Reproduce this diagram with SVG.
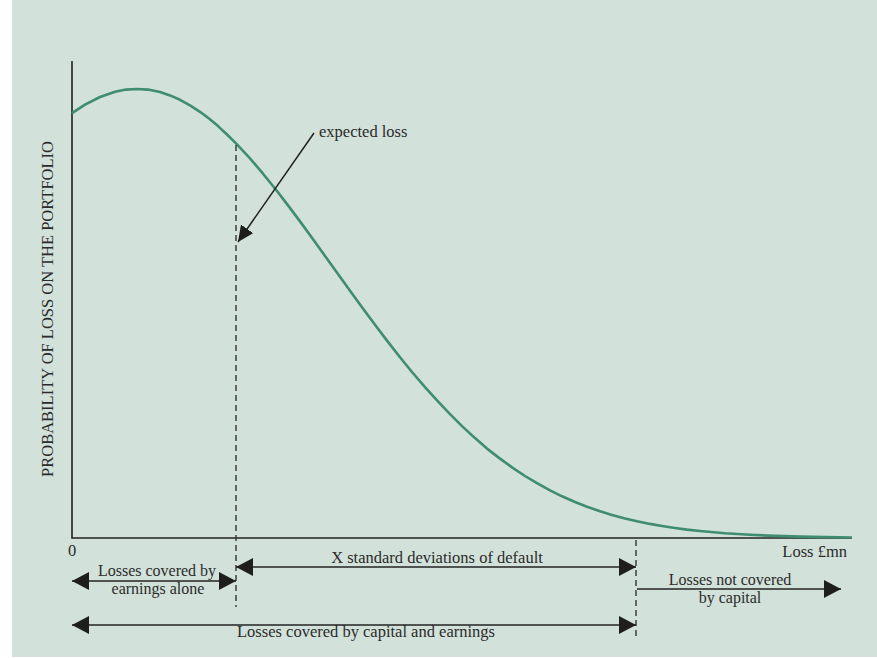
<svg xmlns="http://www.w3.org/2000/svg" width="877" height="658" viewBox="0 0 877 658">
<style>
.t{font-family:"Liberation Serif","Times New Roman",serif;font-size:16.5px;fill:#2b2b2b}
.t2{font-size:16px}
.ax{stroke:#222;stroke-width:1.6;fill:none}
.ar{stroke:#222;stroke-width:1.5;fill:none}
.dash{stroke:#333;stroke-width:1.4;stroke-dasharray:6 4;fill:none}
.curve{stroke:#3f8d70;stroke-width:2.6;fill:none;stroke-linejoin:round}
</style>
<defs>
<marker id="ah" markerUnits="userSpaceOnUse" markerWidth="18" markerHeight="20" refX="17" refY="9" orient="auto-start-reverse">
<path d="M0,0 L17,9 L0,18 z" fill="#1e1e1e"/>
</marker>
<marker id="ah2" markerUnits="userSpaceOnUse" markerWidth="18" markerHeight="18" refX="16" refY="7.5" orient="auto">
<path d="M0,0 L16,7.5 L0,15 z" fill="#1e1e1e"/>
</marker>
</defs>
<rect x="12" y="0" width="865" height="657" fill="#d2e1d9"/>
<g id="axes">
<path class="ax" d="M72,61 V538 H852"/>
<text class="t" x="72" y="556" text-anchor="middle">0</text>
<text class="t" x="847" y="557" text-anchor="end">Loss £mn</text>
<text class="t" transform="translate(53,309) rotate(-90)" text-anchor="middle">PROBABILITY OF LOSS ON THE PORTFOLIO</text>
</g>
<g id="curve">
<path class="curve" d="M72,113.2 L85,104.7 L100,97 L115,91.8 L126,89.6 L137,89 L148,89.6 L160,92.1 L170,95.4 L180,99.8 L190,105.4 L200,111.8 L209,118.5 L218,126.1 L227,134.5 L236,143.4 L250,158.4 L263,173.7 L277,191 L288,205.4 L300,221.4 L313,239.3 L327,258.7 L338,274.1 L350,290.7 L362,307.2 L375,324.8 L387,340.6 L400,357.2 L412,372 L425,387.1 L437,400.4 L450,414.1 L462,426.1 L475,438.1 L487,448.6 L500,458.6 L512,467.4 L525,476 L537,483.1 L550,490.4 L562,496.3 L575,502 L587,506.7 L600,511.2 L612,514.9 L625,518.4 L637,521.2 L650,523.9 L662,526 L675,528 L687,529.6 L700,531 L725,533.2 L750,534.8 L775,535.9 L800,536.6 L825,537.1 L852,537.5"/>
</g>
<g id="connectors">
<path class="dash" d="M236,145 V607"/>
<path class="dash" d="M636,540 V637"/>
<path class="ar" d="M314,133 L238,242" marker-end="url(#ah2)"/>
<path class="ar" d="M72,581 H236" marker-start="url(#ah)" marker-end="url(#ah)"/>
<path class="ar" d="M236,567 H636" marker-start="url(#ah)" marker-end="url(#ah)"/>
<path class="ar" d="M637,589 H841" marker-end="url(#ah)"/>
<path class="ar" d="M72,625 H636" marker-start="url(#ah)" marker-end="url(#ah)"/>
</g>
<g id="labels">
<text class="t" x="319" y="137">expected loss</text>
<text class="t t2" x="157" y="576" text-anchor="middle">Losses covered by</text>
<text class="t t2" x="158" y="594" text-anchor="middle">earnings alone</text>
<text class="t" x="437" y="563" text-anchor="middle">X standard deviations of default</text>
<text class="t t2" x="730" y="585" text-anchor="middle">Losses not covered</text>
<text class="t t2" x="730" y="603" text-anchor="middle">by capital</text>
<text class="t" x="366" y="637" text-anchor="middle">Losses covered by capital and earnings</text>
</g>
</svg>
